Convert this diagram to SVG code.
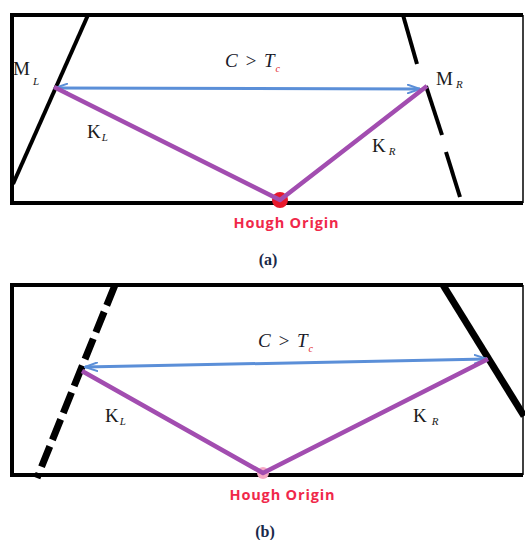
<svg xmlns="http://www.w3.org/2000/svg" width="525" height="540" viewBox="0 0 525 540">
<defs>
<marker id="ah" viewBox="0 0 14 10" refX="13" refY="5" markerWidth="14" markerHeight="10" markerUnits="userSpaceOnUse" orient="auto-start-reverse">
<path d="M0,0.5 L13,5 L0,9.5" fill="none" stroke="#5b8fd8" stroke-width="2"/>
</marker>
<style>
.edge{stroke:#000;stroke-width:4;fill:none}
.thin{stroke:#000;stroke-width:1.5}
.thick{stroke:#000;stroke-width:7;fill:none}
.blue{stroke:#5b8fd8;stroke-width:3;fill:none}
.purple{stroke:#a24db0;stroke-width:4.5;fill:none;stroke-linejoin:round}
.lbl{font-family:"Liberation Serif",serif;font-size:19px;fill:#1a1a1a}
.sub{font-style:italic;font-size:11px}
.cond{font-family:"Liberation Serif",serif;font-style:italic;font-size:19px;fill:#1a1a2a}
.csub{font-size:10px;fill:#e02020}
.hough{font-family:"Open Sans","Liberation Sans",sans-serif;font-weight:bold;font-size:14.5px;fill:#f0284a}
.cap{font-family:"Liberation Serif",serif;font-weight:bold;font-size:16px;fill:#1a2a4a}
</style>
</defs>
<g id="panel-a">
<g id="frame-a">
<path class="edge" d="M523,15 L12,15 L12,203 L523,203"/>
<line class="thin" x1="523" y1="15" x2="523" y2="203"/>
</g>
<g id="line-left-a"><line class="edge" x1="88" y1="15" x2="13" y2="184"/></g>
<g id="line-right-a">
<line class="edge" x1="403" y1="15" x2="417" y2="64"/>
<line class="edge" x1="426" y1="86" x2="442" y2="135"/>
<line class="edge" x1="446" y1="152" x2="460" y2="197"/>
</g>
<g id="origin-a"><circle cx="280" cy="200" r="8" fill="#e8192c"/></g>
<g id="connectors-a">
<line class="blue" x1="55" y1="88" x2="420" y2="89" marker-start="url(#ah)" marker-end="url(#ah)"/>
<polyline class="purple" points="54,87 280,200 427,86"/>
</g>
<g id="labels-a">
<text class="cond" x="225" y="67" word-spacing="2">C &gt; T<tspan class="csub" dx="1" dy="5">c</tspan></text>
<text class="lbl" x="13" y="75">M<tspan class="sub" dx="3" dy="10">L</tspan></text>
<text class="lbl" x="436" y="85">M<tspan class="sub" dx="3" dy="3">R</tspan></text>
<text class="lbl" x="87" y="138">K<tspan class="sub" dx="1" dy="3">L</tspan></text>
<text class="lbl" x="372" y="152">K<tspan class="sub" dx="3" dy="3">R</tspan></text>
<text class="hough" x="286" y="228" text-anchor="middle" textLength="105">Hough Origin</text>
<text class="cap" x="268" y="265" text-anchor="middle">(a)</text>
</g>
</g>
<g id="panel-b">
<g id="frame-b">
<path class="edge" d="M523,285 L12,285 L12,475 L523,475"/>
<line class="thin" x1="523" y1="285" x2="523" y2="475"/>
</g>
<g id="line-left-b"><line class="thick" x1="115" y1="285" x2="37" y2="478" stroke-dasharray="22 7"/></g>
<g id="line-right-b"><line class="thick" x1="443" y1="285" x2="524" y2="416"/></g>
<g id="origin-b"><circle cx="263" cy="473" r="6" fill="#f6a9c4"/></g>
<g id="connectors-b">
<line class="blue" x1="85" y1="367" x2="487" y2="359" marker-start="url(#ah)" marker-end="url(#ah)"/>
<polyline class="purple" points="82,371 263,473 488,359"/>
</g>
<g id="labels-b">
<text class="cond" x="258" y="347" word-spacing="2">C &gt; T<tspan class="csub" dx="1" dy="5">c</tspan></text>
<text class="lbl" x="105" y="422">K<tspan class="sub" dx="1" dy="3">L</tspan></text>
<text class="lbl" x="413" y="422">K<tspan class="sub" dx="5" dy="3">R</tspan></text>
<text class="hough" x="282" y="500" text-anchor="middle" textLength="105">Hough Origin</text>
<text class="cap" x="265" y="537" text-anchor="middle">(b)</text>
</g>
</g>
</svg>
